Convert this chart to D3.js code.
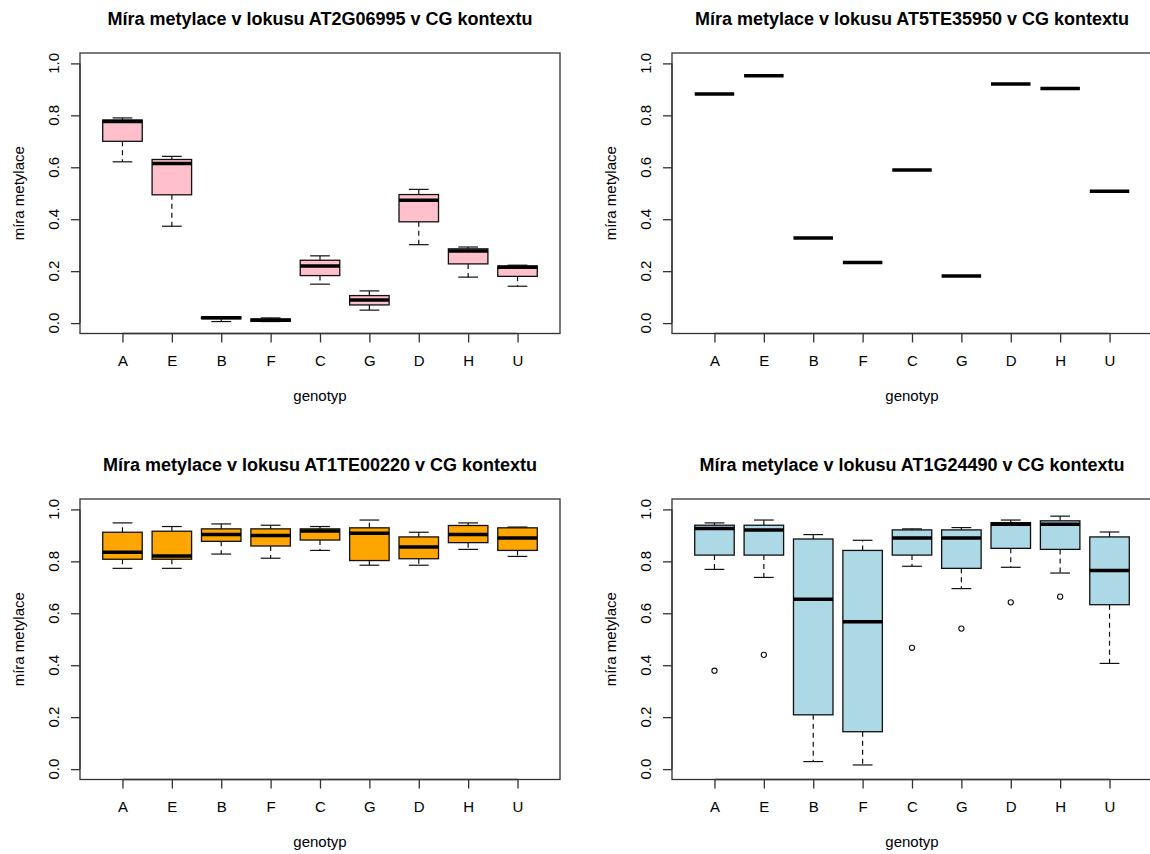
<!DOCTYPE html>
<html><head><meta charset="utf-8">
<script src="https://cdn.jsdelivr.net/npm/d3@7"></script>
<style>body{margin:0;background:#fff;} svg{display:block;font-family:"Liberation Sans",Arial,sans-serif;}</style>
</head><body><svg id="c" width="1150" height="854"></svg>
<script>
const categories = ["A","E","B","F","C","G","D","H","U"];
const yTicks = [0, 0.2, 0.4, 0.6, 0.8, 1.0];
const yTickLabels = ["0.0","0.2","0.4","0.6","0.8","1.0"];
const titles = [
  "Míra metylace v lokusu AT2G06995 v CG kontextu",
  "Míra metylace v lokusu AT5TE35950 v CG kontextu",
  "Míra metylace v lokusu AT1TE00220 v CG kontextu",
  "Míra metylace v lokusu AT1G24490 v CG kontextu"
];
const xLabel = "genotyp";
const yLabel = "míra metylace";
// [min, q1, median, q3, max] per genotype
const boxAT2G06995 = [
  [0.621,0.700,0.776,0.782,0.790],
  [0.373,0.494,0.615,0.630,0.642],
  [0.006,0.017,0.021,0.024,0.025],
  [0.006,0.007,0.011,0.016,0.020],
  [0.150,0.183,0.220,0.242,0.259],
  [0.050,0.070,0.089,0.106,0.124],
  [0.302,0.390,0.473,0.495,0.515],
  [0.177,0.228,0.278,0.286,0.293],
  [0.142,0.180,0.215,0.220,0.223]
];
const valAT5TE35950 = [0.882,0.952,0.328,0.233,0.590,0.181,0.921,0.903,0.508];
const boxAT1TE00220 = [
  [0.773,0.808,0.835,0.912,0.948],
  [0.773,0.808,0.821,0.916,0.934],
  [0.828,0.877,0.903,0.925,0.944],
  [0.812,0.859,0.899,0.925,0.939],
  [0.842,0.882,0.917,0.925,0.934],
  [0.785,0.803,0.908,0.929,0.959],
  [0.785,0.810,0.855,0.894,0.912],
  [0.846,0.872,0.903,0.938,0.948],
  [0.819,0.842,0.890,0.929,0.932]
];
const boxAT1G24490 = [
  [0.769,0.824,0.926,0.939,0.948],
  [0.738,0.824,0.921,0.939,0.959],
  [0.029,0.209,0.654,0.886,0.903],
  [0.016,0.144,0.567,0.842,0.881],
  [0.781,0.824,0.890,0.921,0.925],
  [0.695,0.773,0.890,0.921,0.930],
  [0.777,0.850,0.943,0.949,0.959],
  [0.755,0.846,0.943,0.956,0.974],
  [0.407,0.633,0.765,0.894,0.913]
];
const outAT1G24490 = [[0.379],[0.440],[],[],[0.467],[0.541],[0.642],[0.664],[]];
const fills = ["#FFC0CB", "#FFC0CB", "#FFA500", "#ADD8E6"];

const panels = [
  {left: 80,  top: 53,  stats: boxAT2G06995, out: categories.map(() => [])},
  {left: 672, top: 53,  stats: valAT5TE35950.map(v => [v,v,v,v,v]), out: categories.map(() => [])},
  {left: 80,  top: 499, stats: boxAT1TE00220, out: categories.map(() => [])},
  {left: 672, top: 499, stats: boxAT1G24490, out: outAT1G24490}
];
const W = 480, H = 280.5;
const svg = d3.select("#c");
svg.append("rect").attr("width",1150).attr("height",854).attr("fill","#fff");

panels.forEach((p, pi) => {
  const g = svg.append("g").attr("transform", `translate(${p.left},${p.top})`);
  const x = d3.scaleLinear().domain([0.14, 9.86]).range([0, W]);
  const y = d3.scaleLinear().domain([-0.04, 1.04]).range([H, 0]);
  const unit = x(2) - x(1);
  const bh = unit * 0.4, ch = unit * 0.2;

  // boxes
  p.stats.forEach((s, i) => {
    const cx = x(i + 1);
    const [mn, q1, md, q3, mx] = s;
    const bg = g.append("g");
    bg.append("line").attr("x1",cx).attr("x2",cx).attr("y1",y(q3)).attr("y2",y(mx))
      .attr("stroke","#111").attr("stroke-width",1.2).attr("stroke-dasharray","5,4");
    bg.append("line").attr("x1",cx).attr("x2",cx).attr("y1",y(q1)).attr("y2",y(mn))
      .attr("stroke","#111").attr("stroke-width",1.2).attr("stroke-dasharray","5,4");
    bg.append("line").attr("x1",cx-ch).attr("x2",cx+ch).attr("y1",y(mx)).attr("y2",y(mx))
      .attr("stroke","#111").attr("stroke-width",1.2);
    bg.append("line").attr("x1",cx-ch).attr("x2",cx+ch).attr("y1",y(mn)).attr("y2",y(mn))
      .attr("stroke","#111").attr("stroke-width",1.2);
    bg.append("rect").attr("x",cx-bh).attr("width",2*bh).attr("y",y(q3)).attr("height",Math.max(0,y(q1)-y(q3)))
      .attr("fill",fills[pi]).attr("stroke","#111").attr("stroke-width",1.3);
    bg.append("line").attr("x1",cx-bh).attr("x2",cx+bh).attr("y1",y(md)).attr("y2",y(md))
      .attr("stroke","#000").attr("stroke-width",3.5);
    p.out[i].forEach(o => {
      bg.append("circle").attr("cx",cx).attr("cy",y(o)).attr("r",2.6)
        .attr("fill","none").attr("stroke","#111").attr("stroke-width",1.1);
    });
  });

  // frame
  g.append("rect").attr("x",0).attr("y",0).attr("width",W).attr("height",H)
    .attr("fill","none").attr("stroke","#333").attr("stroke-width",1.3);

  // x axis
  const xa = g.append("g").attr("transform",`translate(0,${H})`)
    .call(d3.axisBottom(x).tickValues(d3.range(1, categories.length + 1))
      .tickFormat(i => categories[i - 1]).tickSize(9).tickPadding(13).tickSizeOuter(0));
  xa.select(".domain").attr("d", `M${x(1)},0H${x(categories.length)}`).attr("stroke","#333").attr("stroke-width",1.3);
  xa.selectAll(".tick line").attr("stroke","#333").attr("stroke-width",1.3);
  xa.selectAll(".tick text").attr("font-size",15).attr("fill","#000")
    .attr("font-family","Liberation Sans, Arial, sans-serif");

  // y axis
  const ya = g.append("g")
    .call(d3.axisLeft(y).tickValues(yTicks).tickFormat("").tickSize(9).tickSizeOuter(0));
  ya.select(".domain").attr("d", `M0,${y(0)}V${y(1)}`).attr("stroke","#333").attr("stroke-width",1.3);
  ya.selectAll(".tick line").attr("stroke","#333").attr("stroke-width",1.3);
  yTicks.forEach((t, k) => {
    g.append("text").attr("transform",`translate(-21,${y(t)}) rotate(-90)`)
      .attr("text-anchor","middle").attr("font-size",15).attr("fill","#000").text(yTickLabels[k]);
  });

  // labels
  g.append("text").attr("x", W/2).attr("y", -28).attr("text-anchor","middle")
    .attr("font-size",18).attr("font-weight","bold").attr("fill","#000").text(titles[pi]);
  g.append("text").attr("x", W/2).attr("y", H + 67).attr("text-anchor","middle")
    .attr("font-size",15).attr("fill","#000").text(xLabel);
  g.append("text").attr("transform",`translate(-56,${H/2}) rotate(-90)`).attr("text-anchor","middle")
    .attr("font-size",15).attr("fill","#000").text(yLabel);
});
</script></body></html>
